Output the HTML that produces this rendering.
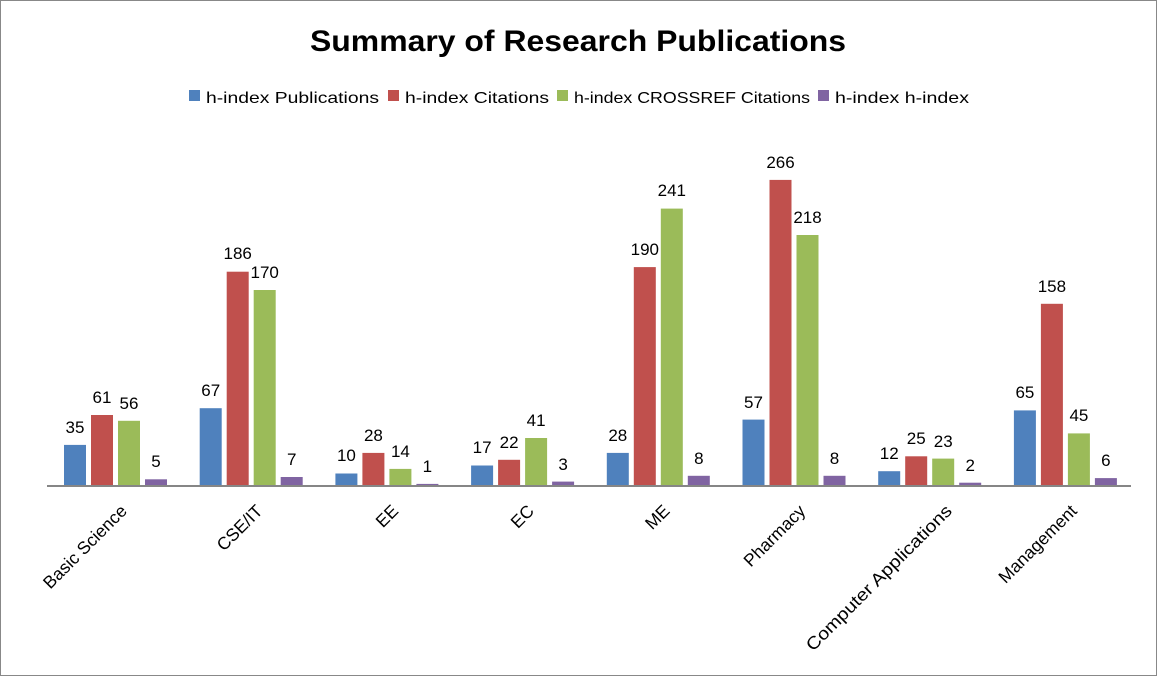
<!DOCTYPE html><html><head><style>body{margin:0;background:#fff}svg{display:block}text{font-family:"Liberation Sans",sans-serif}</style></head><body>
<svg width="1157" height="676" xmlns="http://www.w3.org/2000/svg">
<rect x="0.5" y="0.5" width="1156" height="675" fill="#fff" stroke="#888"/>
<text x="310" y="51" font-size="30" font-weight="bold" fill="#000" textLength="536" lengthAdjust="spacingAndGlyphs">Summary of Research Publications</text>
<g font-size="16" fill="#000">
<rect x="189" y="90" width="11" height="11" fill="#4F81BD"/><text x="206" y="103" textLength="173" lengthAdjust="spacingAndGlyphs">h-index Publications</text>
<rect x="388" y="90" width="11" height="11" fill="#C0504D"/><text x="405" y="103" textLength="144" lengthAdjust="spacingAndGlyphs">h-index Citations</text>
<rect x="557" y="90" width="11" height="11" fill="#9BBB59"/><text x="574" y="103" textLength="236" lengthAdjust="spacingAndGlyphs">h-index CROSSREF Citations</text>
<rect x="818" y="90" width="11" height="11" fill="#8064A2"/><text x="835" y="103" textLength="134" lengthAdjust="spacingAndGlyphs">h-index h-index</text>
</g>
<g fill="#4F81BD">
<rect x="64" y="444.9" width="22" height="40.1"/><rect x="199.7" y="408.2" width="22" height="76.8"/><rect x="335.4" y="473.5" width="22" height="11.5"/><rect x="471.1" y="465.5" width="22" height="19.5"/><rect x="606.8" y="452.9" width="22" height="32.1"/><rect x="742.5" y="419.6" width="22" height="65.4"/><rect x="878.2" y="471.2" width="22" height="13.8"/><rect x="1013.9" y="410.4" width="22" height="74.6"/>
</g>
<g fill="#C0504D">
<rect x="91" y="415" width="22" height="70"/><rect x="226.7" y="271.7" width="22" height="213.3"/><rect x="362.4" y="452.9" width="22" height="32.1"/><rect x="498.1" y="459.8" width="22" height="25.2"/><rect x="633.8" y="267.1" width="22" height="217.9"/><rect x="769.5" y="179.9" width="22" height="305.1"/><rect x="905.2" y="456.3" width="22" height="28.7"/><rect x="1040.9" y="303.8" width="22" height="181.2"/>
</g>
<g fill="#9BBB59">
<rect x="118" y="420.8" width="22" height="64.2"/><rect x="253.7" y="290" width="22" height="195"/><rect x="389.4" y="468.9" width="22" height="16.1"/><rect x="525.1" y="438" width="22" height="47"/><rect x="660.8" y="208.6" width="22" height="276.4"/><rect x="796.5" y="235" width="22" height="250"/><rect x="932.2" y="458.6" width="22" height="26.4"/><rect x="1067.9" y="433.4" width="22" height="51.6"/>
</g>
<g fill="#8064A2">
<rect x="145" y="479.3" width="22" height="5.7"/><rect x="280.7" y="477" width="22" height="8"/><rect x="416.4" y="483.9" width="22" height="1.1"/><rect x="552.1" y="481.6" width="22" height="3.4"/><rect x="687.8" y="475.8" width="22" height="9.2"/><rect x="823.5" y="475.8" width="22" height="9.2"/><rect x="959.2" y="482.7" width="22" height="2.3"/><rect x="1094.9" y="478.1" width="22" height="6.9"/>
</g>
<g font-size="17" fill="#000" text-anchor="middle">
<text x="75" y="433">35</text><text x="102" y="403">61</text><text x="129" y="409">56</text><text x="156" y="467">5</text>
<text x="210.7" y="396">67</text><text x="237.7" y="259">186</text><text x="264.7" y="278">170</text><text x="291.7" y="465">7</text>
<text x="346.4" y="461">10</text><text x="373.4" y="441">28</text><text x="400.4" y="457">14</text><text x="427.4" y="472">1</text>
<text x="482.1" y="453">17</text><text x="509.1" y="448">22</text><text x="536.1" y="426">41</text><text x="563.1" y="470">3</text>
<text x="617.8" y="441">28</text><text x="644.8" y="255">190</text><text x="671.8" y="196">241</text><text x="698.8" y="464">8</text>
<text x="753.5" y="408">57</text><text x="780.5" y="168">266</text><text x="807.5" y="223">218</text><text x="834.5" y="464">8</text>
<text x="889.2" y="459">12</text><text x="916.2" y="444">25</text><text x="943.2" y="447">23</text><text x="970.2" y="471">2</text>
<text x="1024.9" y="398">65</text><text x="1051.9" y="292">158</text><text x="1078.9" y="421">45</text><text x="1105.9" y="466">6</text>
</g>
<line x1="47" y1="486" x2="1131" y2="486" stroke="#868686" stroke-width="2"/>
<g font-size="17.5" fill="#000" text-anchor="end">
<text transform="translate(128,512) rotate(-45)">Basic Science</text>
<text transform="translate(263.7,512) rotate(-45)">CSE/IT</text>
<text transform="translate(399.4,512) rotate(-45)">EE</text>
<text transform="translate(535.1,512) rotate(-45)">EC</text>
<text transform="translate(670.8,512) rotate(-45)">ME</text>
<text transform="translate(806.5,512) rotate(-45)">Pharmacy</text>
<text transform="translate(953,512) rotate(-45)" textLength="198" lengthAdjust="spacingAndGlyphs">Computer Applications</text>
<text transform="translate(1077.9,512) rotate(-45)">Management</text>
</g>
</svg></body></html>
